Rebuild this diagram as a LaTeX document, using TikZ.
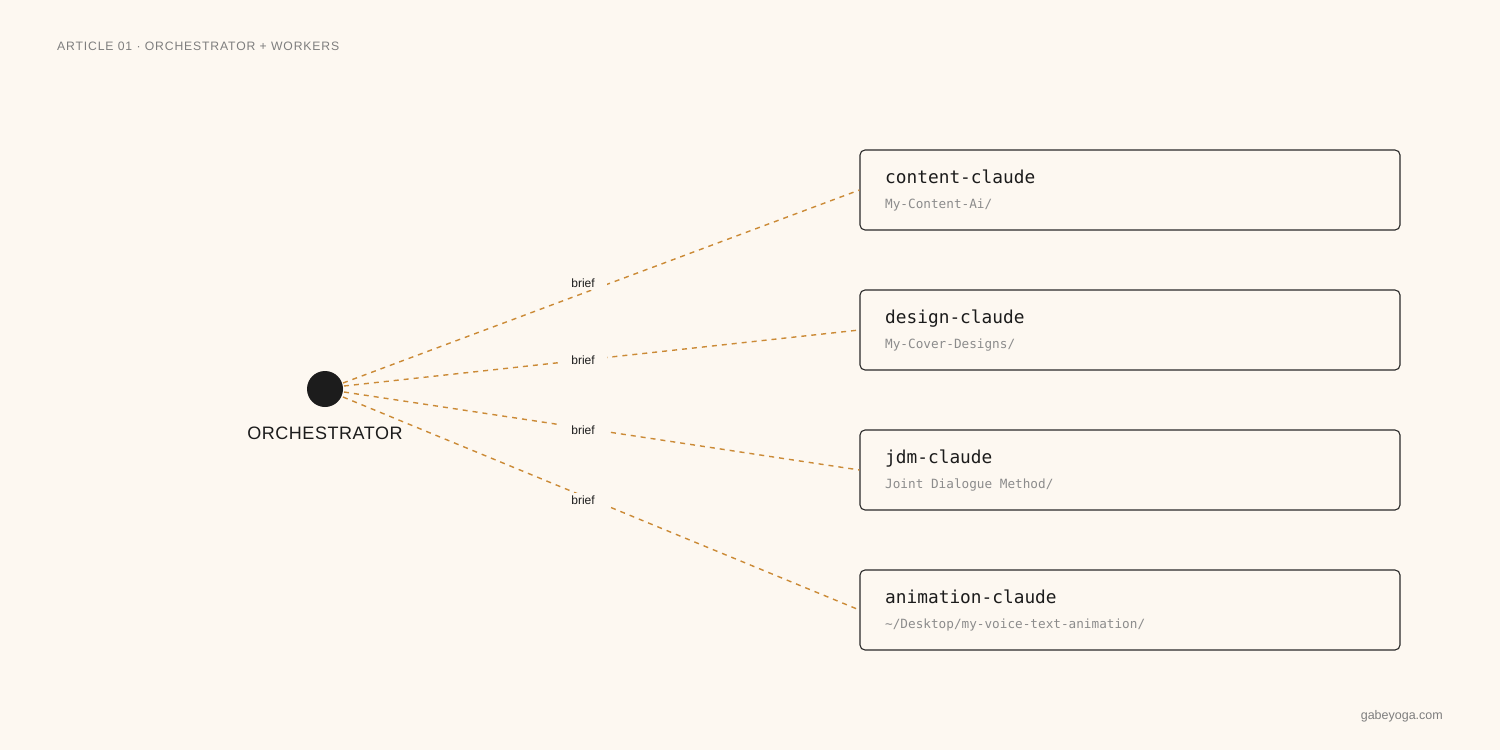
\documentclass[tikz,border=0pt]{standalone}
\usepackage{fontspec}
\setmainfont{Liberation Sans}
\newfontfamily\monof{DejaVu Sans Mono}
\newfontfamily\hdrf[LetterSpace=7]{Liberation Sans}
\newfontfamily\orchf[LetterSpace=3]{Liberation Sans}
\definecolor{bg}{HTML}{FDF8F1}
\definecolor{ink}{HTML}{1C1C1C}
\definecolor{muted}{HTML}{7E7E7E}
\definecolor{sub}{HTML}{8C8C8C}
\definecolor{wire}{HTML}{CB8A36}
\definecolor{boxline}{HTML}{2A2A2A}
\begin{document}
\begin{tikzpicture}[x=1pt,y=-1pt,
  worker/.style={draw=boxline,line width=1.1pt,rounded corners=5pt,minimum width=540pt,minimum height=80pt,inner sep=0pt},
  wtitle/.style={anchor=base west,inner sep=0pt,text=ink,font=\monof\fontsize{17.8}{20}\selectfont},
  wsub/.style={anchor=base west,inner sep=0pt,text=sub,font=\monof\fontsize{12.7}{15}\selectfont},
  brieflink/.style={draw=wire,line width=1.4pt,dash pattern=on 5pt off 5pt},
  brieflabel/.style={fill=bg,inner xsep=12pt,inner ysep=3pt,text=ink,font=\fontsize{12}{14}\selectfont}]
\fill[bg] (0,0) rectangle (1500,750);
\useasboundingbox (0,0) rectangle (1500,750);
\node[anchor=base west,inner sep=0pt,text=muted,font=\hdrf\fontsize{12.2}{14}\selectfont] (hdr) at (57,50) {ARTICLE 01 · ORCHESTRATOR + WORKERS};
\node[anchor=base east,inner sep=0pt,text=muted,font=\fontsize{12.5}{14}\selectfont] (ftr) at (1443,719) {gabeyoga.com};
% workers
\node[worker] (w1) at (1130,190) {};
\node[worker] (w2) at (1130,330) {};
\node[worker] (w3) at (1130,470) {};
\node[worker] (w4) at (1130,610) {};
\node[wtitle] (t1) at (885,183) {content-claude};
\node[wsub] (s1) at (885,208) {My-Content-Ai/};
\node[wtitle] (t2) at (885,323) {design-claude};
\node[wsub] (s2) at (885,348) {My-Cover-Designs/};
\node[wtitle] (t3) at (885,463) {jdm-claude};
\node[wsub] (s3) at (885,488) {Joint Dialogue Method/};
\node[wtitle] (t4) at (885,603) {animation-claude};
\node[wsub] (s4) at (885,628) {\string~/Desktop/my-voice-text-animation/};
% orchestrator
\node[circle,fill=ink,minimum size=36pt,inner sep=0pt] (orc) at (325,389) {};
\node[anchor=base,inner sep=0pt,text=ink,font=\orchf\fontsize{18}{20}\selectfont] (orcl) at (325,439) {ORCHESTRATOR};
\coordinate (o1) at (343,383);
\coordinate (o2) at (344,386);
\coordinate (o3) at (344,392);
\coordinate (o4) at (343,397);
\draw[brieflink] (o1) -- (w1.west);
\draw[brieflink] (o2) -- (w2.west);
\draw[brieflink] (o3) -- (w3.west);
\draw[brieflink] (o4) -- (w4.west);
\node[brieflabel] (b1) at (583,283) {brief};
\node[brieflabel] (b2) at (583,360) {brief};
\node[brieflabel] (b3) at (583,430) {brief};
\node[brieflabel] (b4) at (583,500) {brief};
\end{tikzpicture}
\end{document}
